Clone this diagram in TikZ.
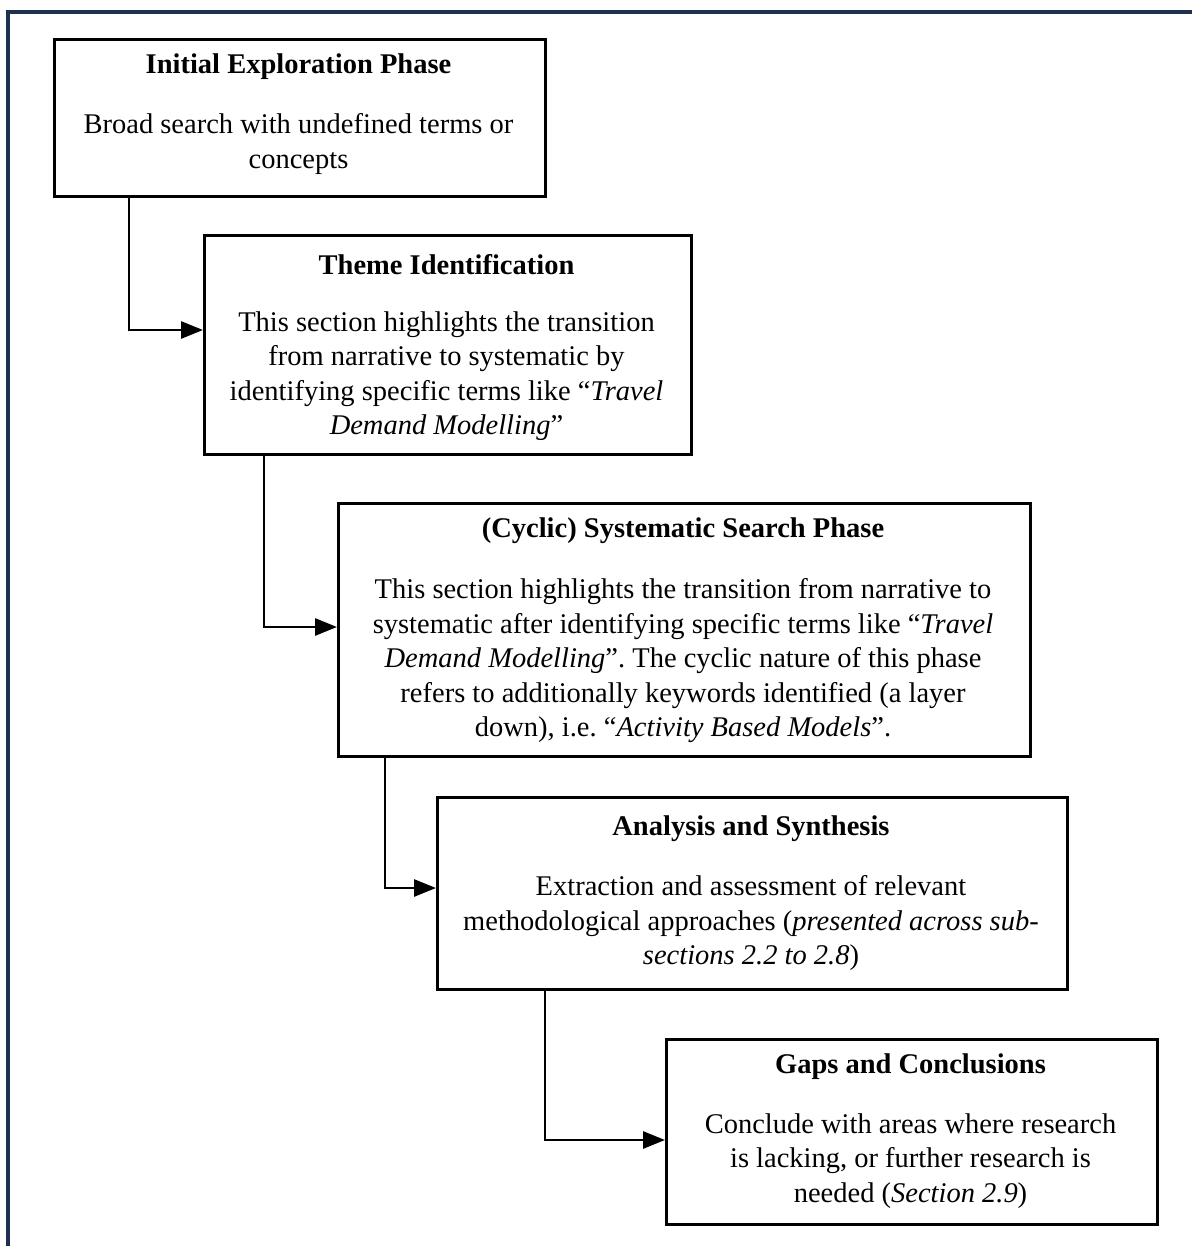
\documentclass[tikz,border=0pt]{standalone}
\usepackage{fontspec}
\setmainfont{Liberation Serif}
\usetikzlibrary{arrows.meta}
\definecolor{framenavy}{HTML}{1F3150}
\frenchspacing
\begin{document}
\begin{tikzpicture}[x=1pt,y=-1pt,
  phasebox/.style={draw=black,line width=2.8pt,rectangle,inner sep=0pt,anchor=north west},
  phasetitle/.style={font=\fontsize{28.5}{34.5}\selectfont\bfseries,inner sep=0pt},
  phasebody/.style={font=\fontsize{28.5}{34.5}\selectfont,align=center,inner sep=0pt},
  flow/.style={line width=2.8pt,-{Triangle[length=22pt,width=17pt]}}]

% page area
\useasboundingbox (0,0) rectangle (1192,1246);

% outer frame (top and left edges)
\coordinate (fbl) at (8,1246);
\coordinate (ftl) at (8,12);
\coordinate (ftr) at (1192,12);
\draw[framenavy,line width=3.2pt] (fbl) -- (ftl) -- (ftr);

% phase boxes
\node[phasebox,minimum width=491pt,minimum height=157pt] (b1) at (53,38) {};
\node[phasebox,minimum width=487pt,minimum height=219pt] (b2) at (203,234) {};
\node[phasebox,minimum width=692pt,minimum height=253pt] (b3) at (337,502) {};
\node[phasebox,minimum width=630pt,minimum height=192pt] (b4) at (436,796) {};
\node[phasebox,minimum width=491pt,minimum height=185pt] (b5) at (665,1038) {};

% box contents
\node[phasetitle] (t1) at (298.5,67) {Initial Exploration Phase};
\node[phasebody] (d1) at (298.5,144) {Broad search with undefined terms or\\concepts};

\node[phasetitle] (t2) at (446.5,265) {Theme Identification};
\node[phasebody] (d2) at (446.5,376) {This section highlights the transition\\from narrative to systematic by\\identifying specific terms like ``\textit{Travel}\\\textit{Demand Modelling}''};

\node[phasetitle] (t3) at (683,531) {(Cyclic) Systematic Search Phase};
\node[phasebody] (d3) at (683,661) {This section highlights the transition from narrative to\\systematic after identifying specific terms like ``\textit{Travel}\\\textit{Demand Modelling}''. The cyclic nature of this phase\\refers to additionally keywords identified (a layer\\down), i.e. ``\textit{Activity Based Models}''.};

\node[phasetitle] (t4) at (751,829) {Analysis and Synthesis};
\node[phasebody] (d4) at (751,923) {Extraction and assessment of relevant\\methodological approaches (\textit{presented across sub-}\\\textit{sections 2.2 to 2.8})};

\node[phasetitle] (t5) at (910.5,1067) {Gaps and Conclusions};
\node[phasebody] (d5) at (910.5,1161) {Conclude with areas where research\\is lacking, or further research is\\needed (\textit{Section 2.9})};

% elbow connectors
\coordinate (k1) at (129,330);
\coordinate (k2) at (264,627);
\coordinate (k3) at (385,888);
\coordinate (k4) at (545,1140);
\draw[flow] (b1.south -| k1) |- (b2.west |- k1);
\draw[flow] (b2.south -| k2) |- (b3.west |- k2);
\draw[flow] (b3.south -| k3) |- (b4.west |- k3);
\draw[flow] (b4.south -| k4) |- (b5.west |- k4);
\end{tikzpicture}
\end{document}
